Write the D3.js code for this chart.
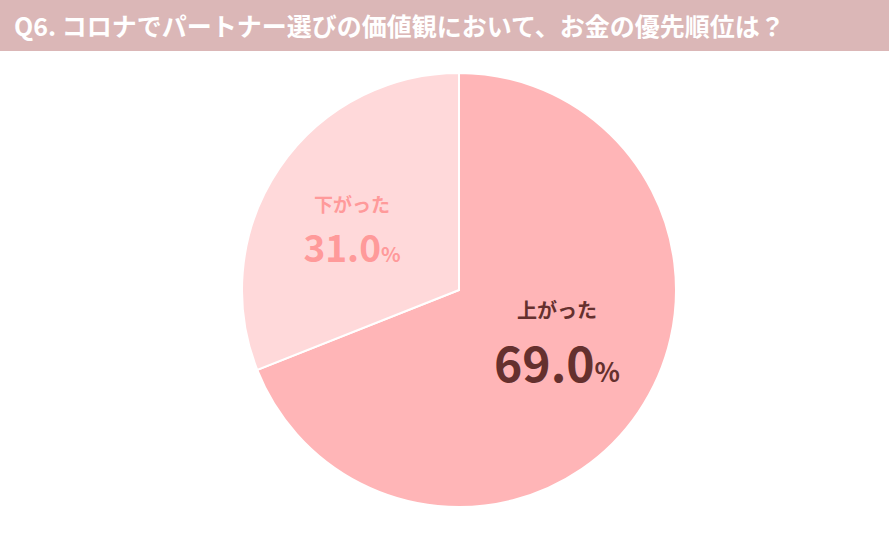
<!DOCTYPE html><html><head><meta charset="utf-8"><script src="https://cdn.jsdelivr.net/npm/d3@7"></script>
<style>body{margin:0;background:#fff}</style></head><body><svg id="c" width="889" height="534"></svg><script>
const title="Q6. コロナでパートナー選びの価値観において、お金の優先順位は？";
const categories=["上がった","下がった"];
const values=[69.0,31.0];
const colors=["#ffb5b7","#ffd9da"];
const textColors=["#65302e","#ff9a9a"];
const svg=d3.select("#c");
const F="'Noto Sans CJK JP','Noto Sans',sans-serif";
svg.append("rect").attr("x",0).attr("y",0).attr("width",889).attr("height",51).attr("fill","#dbb7b7");
svg.append("text").attr("x",14).attr("y",36).attr("fill","#fff").attr("font-family",F).attr("font-weight",700).attr("font-size",25).text(title);
const g=svg.append("g").attr("transform","translate(459,290)");
const pie=d3.pie().sort(null)(values);
const arc=d3.arc().innerRadius(0).outerRadius(217);
g.selectAll("path").data(pie).join("path").attr("d",arc).attr("fill",(d,i)=>colors[i]).attr("stroke","#fff").attr("stroke-width",2);
const lab=[{x:98,y:28,s1:20,s2:48,dy:64},{x:-107,y:-78,s1:19,s2:37,dy:50}];
pie.forEach((d,i)=>{const L=lab[i];
g.append("text").attr("x",L.x).attr("y",L.y).attr("text-anchor","middle").attr("fill",textColors[i]).attr("font-family",F).attr("font-weight",700).attr("font-size",L.s1).text(categories[i]);
const t=g.append("text").attr("x",L.x).attr("y",L.y+L.dy).attr("text-anchor","middle").attr("fill",textColors[i]).attr("font-family",F).attr("font-weight",700).attr("font-size",L.s2);
t.append("tspan").text(values[i].toFixed(1));t.append("tspan").attr("font-size",L.s2*0.55).text("%");});
</script></body></html>
